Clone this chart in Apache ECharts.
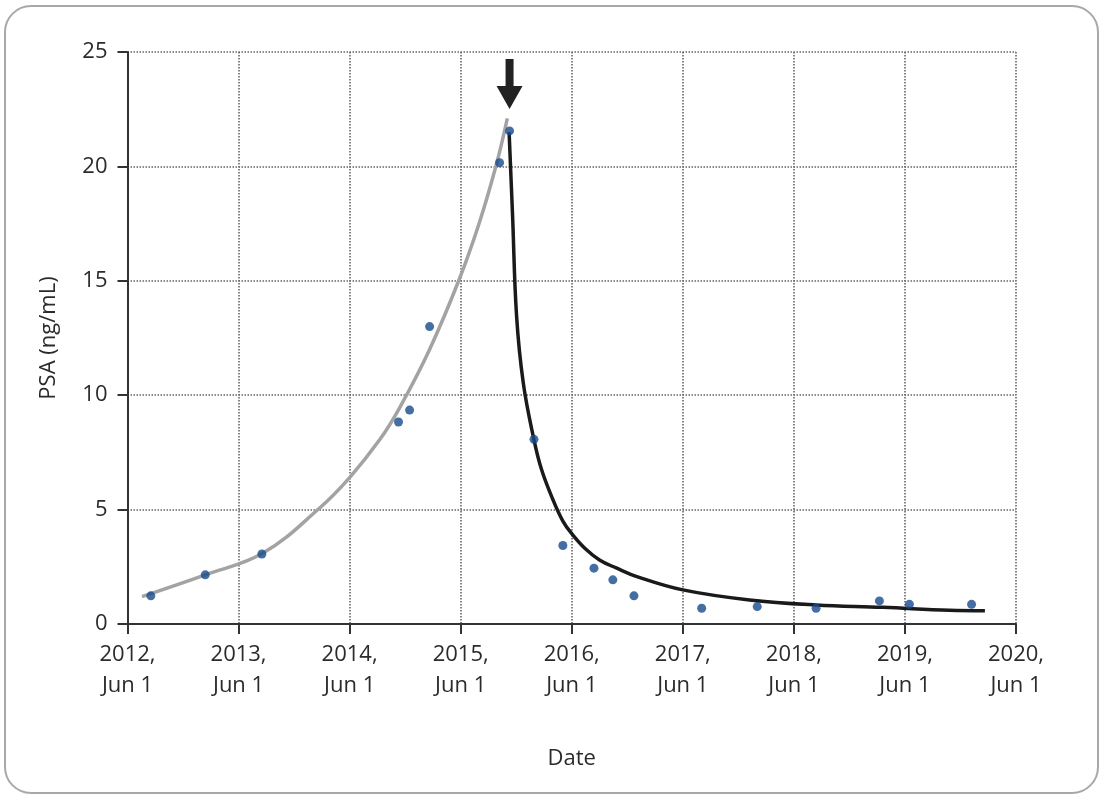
<!DOCTYPE html>
<html>
<head>
<meta charset="utf-8">
<style>
  html, body { margin: 0; padding: 0; background: #fff; }
  #chart { width: 1108px; height: 800px; }
</style>
<script src="https://cdn.jsdelivr.net/npm/echarts@6/dist/echarts.min.js"></script>
</head>
<body>
<div id="chart"></div>
<script>
// x values are years after 2012 Jun 1
var xTickLabels = ['2012,\nJun 1', '2013,\nJun 1', '2014,\nJun 1', '2015,\nJun 1', '2016,\nJun 1',
                   '2017,\nJun 1', '2018,\nJun 1', '2019,\nJun 1', '2020,\nJun 1'];

// measured PSA samples
var sampleX = [0.21, 0.70, 1.21, 2.44, 2.54, 2.72, 3.35, 3.44, 3.66, 3.92, 4.20, 4.37, 4.56, 5.17, 5.67, 6.20, 6.77, 7.04, 7.60];
var sampleY = [1.23, 2.15, 3.06, 8.83, 9.35, 13.0, 20.16, 21.55, 8.07, 3.43, 2.44, 1.93, 1.23, 0.69, 0.76, 0.69, 1.01, 0.86, 0.86];

// rising fit curve (grey)
var riseX = [0.13, 0.70, 1.22, 1.73, 2.00, 2.27, 2.45, 2.72, 2.99, 3.17, 3.32, 3.42];
var riseY = [1.2, 2.15, 3.1, 5.07, 6.4, 8.05, 9.45, 12.0, 15.1, 17.57, 20.06, 22.1];

// falling fit curve after treatment (black)
var fallX = [3.436, 3.467, 3.503, 3.563, 3.659, 3.728, 3.83, 3.92, 4.0, 4.12, 4.25, 4.40, 4.60, 5.0, 5.6, 6.2, 6.8, 7.4, 7.72];
var fallY = [21.5, 17.86, 13.48, 10.56, 8.07, 6.75, 5.44, 4.5, 3.95, 3.3, 2.8, 2.45, 2.05, 1.49, 1.05, 0.83, 0.73, 0.6, 0.58];

var treatmentX = 3.44;

function pairs(xs, ys) {
  return xs.map(function (x, i) { return [x, ys[i]]; });
}

var myChart = echarts.init(document.getElementById('chart'));
var textColor = '#2b2b2b';
var gridLine = { show: true, lineStyle: { color: '#666', width: 1.6, type: [1.5, 1.5] } };

var option = {
  backgroundColor: '#fff',
  textStyle: { fontFamily: 'Open Sans' },
  graphic: [{
    type: 'rect',
    shape: { x: 5, y: 6, width: 1093, height: 787, r: 26 },
    style: { fill: 'none', stroke: '#a8a8a8', lineWidth: 2 },
    silent: true
  }],
  grid: { left: 127.5, right: 92, top: 52, bottom: 176 },
  xAxis: {
    type: 'value',
    min: 0,
    max: 8,
    interval: 1,
    name: 'Date',
    nameLocation: 'middle',
    nameGap: 124,
    nameTextStyle: { fontSize: 22, color: textColor },
    axisLine: { lineStyle: { color: '#333', width: 2 } },
    axisTick: { show: true, length: 10, lineStyle: { color: '#333', width: 2 } },
    axisLabel: {
      fontSize: 22,
      lineHeight: 31,
      color: textColor,
      margin: 15,
      formatter: function (v) { return xTickLabels[Math.round(v)]; }
    },
    splitLine: gridLine
  },
  yAxis: {
    type: 'value',
    min: 0,
    max: 25,
    interval: 5,
    name: 'PSA (ng/mL)',
    nameLocation: 'middle',
    nameGap: 68,
    nameTextStyle: { fontSize: 22, color: textColor },
    axisLine: { show: true, lineStyle: { color: '#333', width: 2 } },
    axisTick: { show: true, length: 10, lineStyle: { color: '#333', width: 2 } },
    axisLabel: { fontSize: 22, color: textColor, margin: 20 },
    splitLine: gridLine
  },
  series: [
    {
      name: 'rise',
      type: 'line',
      data: pairs(riseX, riseY),
      smooth: 0.4,
      showSymbol: false,
      lineStyle: { color: '#a3a3a3', width: 3.5 },
      z: 2
    },
    {
      name: 'fall',
      type: 'line',
      data: pairs(fallX, fallY),
      smooth: 0.4,
      showSymbol: false,
      lineStyle: { color: '#1a1a1a', width: 3.5 },
      z: 3,
      markPoint: {
        silent: true,
        symbol: 'path://M9,0 L17,0 L17,27 L26,27 L13,50 L0,27 L9,27 Z',
        symbolSize: [26, 50],
        itemStyle: { color: '#222' },
        label: { show: false },
        data: [{ coord: [treatmentX, 23.6] }]
      }
    },
    {
      name: 'PSA',
      type: 'scatter',
      data: pairs(sampleX, sampleY),
      symbolSize: 9,
      itemStyle: { color: '#164a8c' },
      z: 4
    }
  ]
};

myChart.setOption(option);
window.addEventListener('resize', function () {
  myChart.resize();
});
</script>
</body>
</html>
